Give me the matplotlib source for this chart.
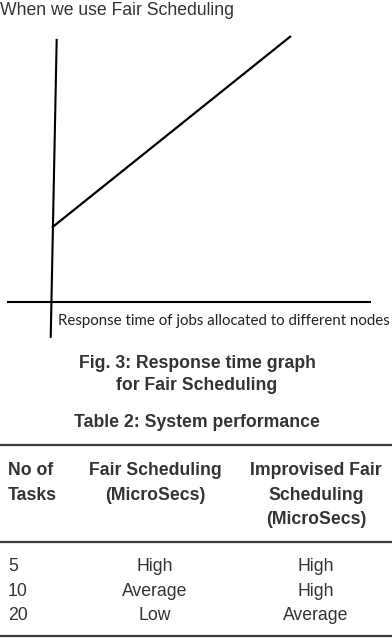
import matplotlib.pyplot as plt
from matplotlib.lines import Line2D

# ---------------------------------------------------------------
# Data
# ---------------------------------------------------------------
response_x = [0.0, 10.0]      # jobs allocated (arbitrary units)
response_y = [2.8, 10.0]      # response time (arbitrary units)

task_counts = ["5", "10", "20"]
fair_perf = ["High", "Average", "Low"]
improvised_perf = ["High", "High", "Average"]
header_lines = [
    ["No of", "Tasks"],
    ["Fair Scheduling", "(MicroSecs)"],
    ["Improvised Fair", "Scheduling", "(MicroSecs)"],
]

W, H = 392, 640
TXT = "#333333"
FS = 12.7


def fx(x):
    return x / W


def fy(y):
    return 1 - y / H


fig = plt.figure(figsize=(W / 100, H / 100), dpi=100)
fig.patch.set_facecolor("white")

# ---------------------------------------------------------------
# Graph
# ---------------------------------------------------------------
fig.text(fx(0), fy(15), "When we use Fair Scheduling", fontsize=FS,
         color=TXT, family="Liberation Sans", va="baseline", ha="left")

ax = fig.add_axes([0.0107, 0.4658, 0.9755, 0.49875])
ax.set_xlim(-2, 14)
ax.set_ylim(-1.5, 10.5)
ax.axis("off")

# hand drawn axes (vertical one leans slightly)
ax.plot([-0.054, 0.197], [-1.35, 9.89], color="black", lw=1.5,
        solid_capstyle="butt")
ax.plot([-1.88, 13.35], [0, 0], color="black", lw=1.5,
        solid_capstyle="butt")
ax.plot(response_x, response_y, color="black", lw=1.6,
        solid_capstyle="butt")

lbl = fig.text(fx(58), fy(325), "Response time of jobs allocated to different nodes",
               fontsize=11, color="#222222", family="Lato", va="baseline",
               ha="left")
# squeeze the label so it spans the same width as the original
r = fig.canvas.get_renderer()
w = lbl.get_window_extent(r).width
lbl.set_fontsize(11 * 330 / w)

# ---------------------------------------------------------------
# Captions
# ---------------------------------------------------------------
for txt, base in [("Fig. 3: Response time graph", 367.5),
                  ("for Fair Scheduling", 390.5),
                  ("Table 2: System performance", 427)]:
    fig.text(fx(197), fy(base), txt, fontsize=FS, color=TXT,
             family="Liberation Sans", weight="bold", ha="center",
             va="baseline")

# ---------------------------------------------------------------
# Table
# ---------------------------------------------------------------
for y in [445, 542, 636]:
    fig.add_artist(Line2D([0, 1], [fy(y), fy(y)], color="#3a3a3a", lw=1.6))

col_x = [8, 155, 316]
col_ha = ["left", "center", "center"]
head_base = [475, 499.5, 524]
for ci, lines in enumerate(header_lines):
    for li, txt in enumerate(lines):
        fig.text(fx(col_x[ci]), fy(head_base[li]), txt, fontsize=FS,
                 color=TXT, family="Liberation Sans", weight="bold",
                 ha=col_ha[ci], va="baseline")

row_base = [571, 595.5, 620]
for ri in range(len(task_counts)):
    vals = [task_counts[ri], fair_perf[ri], improvised_perf[ri]]
    for ci, txt in enumerate(vals):
        fig.text(fx(col_x[ci]), fy(row_base[ri]), txt, fontsize=FS,
                 color=TXT, family="Liberation Sans", ha=col_ha[ci],
                 va="baseline")

fig.savefig("out.png", dpi=100)
